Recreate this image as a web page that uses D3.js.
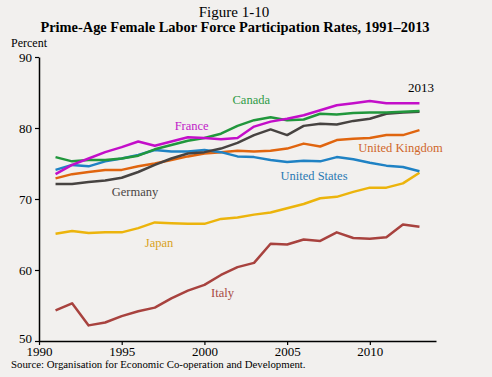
<!DOCTYPE html>
<html>
<head>
<meta charset="utf-8">
<script src="https://cdn.jsdelivr.net/npm/d3@7"></script>
<style>
  body { margin: 0; background: #f2f0ee; }
  svg { font-family: "Liberation Serif", "Times New Roman", serif; }
</style>
</head>
<body>
<div id="chart"></div>
<script>
// years and series (percent)
const years = d3.range(1991, 2014);
const canada  = [75.9, 75.3, 75.5, 75.5, 75.7, 76.1, 77.0, 77.6, 78.2, 78.6, 79.2, 80.3, 81.1, 81.5, 81.1, 81.2, 82.0, 81.9, 82.1, 82.2, 82.2, 82.3, 82.4];
const france  = [73.5, 74.8, 75.7, 76.6, 77.3, 78.1, 77.5, 78.1, 78.7, 78.6, 78.4, 78.6, 80.2, 80.9, 81.3, 81.8, 82.5, 83.2, 83.5, 83.8, 83.5, 83.5, 83.5];
const germany = [72.1, 72.1, 72.4, 72.6, 73.0, 73.8, 74.8, 75.7, 76.4, 76.6, 77.1, 77.9, 79.0, 79.8, 79.0, 80.3, 80.6, 80.5, 81.0, 81.3, 82.0, 82.2, 82.3];
const usa     = [74.1, 74.8, 74.6, 75.3, 75.7, 76.2, 76.9, 76.7, 76.7, 76.9, 76.6, 76.0, 75.9, 75.5, 75.2, 75.4, 75.3, 75.9, 75.6, 75.1, 74.7, 74.5, 73.9];
const uk      = [72.9, 73.5, 73.8, 74.1, 74.1, 74.6, 75.0, 75.5, 76.0, 76.4, 76.6, 76.8, 76.7, 76.8, 77.1, 77.8, 77.4, 78.3, 78.5, 78.6, 79.0, 79.0, 79.7];
const japan   = [65.1, 65.5, 65.2, 65.3, 65.3, 65.9, 66.7, 66.6, 66.5, 66.5, 67.2, 67.4, 67.8, 68.1, 68.7, 69.3, 70.1, 70.3, 71.0, 71.6, 71.6, 72.2, 73.7];
const italy   = [54.3, 55.3, 52.2, 52.6, 53.5, 54.2, 54.7, 56.0, 57.1, 57.9, 59.3, 60.4, 61.0, 63.7, 63.6, 64.3, 64.1, 65.3, 64.5, 64.4, 64.6, 66.4, 66.1];

const seriesNames  = ["Japan", "Italy", "United Kingdom", "United States", "Germany", "Canada", "France"];
const seriesValues = [japan, italy, uk, usa, germany, canada, france];
const lineColors   = ["#ecb40c", "#a8423e", "#e0650f", "#1f82c4", "#474341", "#21973c", "#c30ec9"];
const labelColors  = ["#d9a21c", "#a84a45", "#d0672a", "#2a78b3", "#4a4644", "#2e9a46", "#c020c8"];

const xTicks = [1990, 1995, 2000, 2005, 2010];
const yTicks = [50, 60, 70, 80, 90];

const width = 492, height = 377;
const margin = {top: 57, right: 56, bottom: 36, left: 39};

const svg = d3.select("#chart").append("svg")
    .attr("width", width)
    .attr("height", height);

svg.append("rect").attr("width", width).attr("height", height).attr("fill", "#f2f0ee");

const x = d3.scaleLinear().domain([1990, 2014]).range([margin.left, width - margin.right]);
const y = d3.scaleLinear().domain([50, 90]).range([height - margin.bottom, margin.top]);

// titles
svg.append("text")
    .attr("x", 234).attr("y", 17)
    .attr("text-anchor", "middle")
    .attr("font-size", 15)
    .text("Figure 1-10");
svg.append("text")
    .attr("x", 235).attr("y", 32)
    .attr("text-anchor", "middle")
    .attr("font-size", 14.4)
    .attr("font-weight", "bold")
    .text("Prime-Age Female Labor Force Participation Rates, 1991\u20132013");
svg.append("text")
    .attr("x", 11).attr("y", 47)
    .attr("font-size", 12)
    .text("Percent");

// axes
const xAxis = svg.append("g")
    .attr("transform", `translate(0,${y(50)})`)
    .call(d3.axisBottom(x).tickValues(xTicks).tickFormat(d3.format("d")).tickSize(4).tickSizeOuter(0));
const yAxis = svg.append("g")
    .attr("transform", `translate(${x(1990)},0)`)
    .call(d3.axisLeft(y).tickValues(yTicks).tickSize(4).tickSizeOuter(0));

[xAxis, yAxis].forEach(g => {
    g.select(".domain").attr("stroke", "#000").attr("stroke-width", 1.5);
    g.selectAll(".tick line").attr("stroke", "#000").attr("stroke-width", 1.2);
    g.selectAll(".tick text")
        .attr("fill", "#000")
        .attr("font-size", 13)
        .attr("font-family", "Liberation Serif, serif");
});
xAxis.selectAll(".tick text").attr("dy", "0.65em");
yAxis.selectAll(".tick text").attr("x", -7);
yAxis.selectAll(".tick text").filter(d => d === 50).attr("dy", "0.1em");

// lines
const line = d3.line()
    .x((d, i) => x(years[i]))
    .y(d => y(d));

svg.append("g").selectAll("path")
    .data(seriesValues)
    .join("path")
    .attr("d", d => line(d))
    .attr("fill", "none")
    .attr("stroke", (d, i) => lineColors[i])
    .attr("stroke-width", 2.5)
    .attr("stroke-linejoin", "round");

// series labels (year, percent of text baseline)
const labelPos = {
    "Canada": [2001.7, 83.4],
    "France": [1998.2, 79.7],
    "United Kingdom": [2009.3, 76.6],
    "Germany": [1994.4, 70.4],
    "United States": [2004.6, 72.7],
    "Japan": [1996.4, 63.2],
    "Italy": [2000.4, 56.2]
};
svg.append("g").selectAll("text")
    .data(seriesNames)
    .join("text")
    .attr("x", d => x(labelPos[d][0]))
    .attr("y", d => y(labelPos[d][1]))
    .attr("font-size", 12.5)
    .attr("fill", (d, i) => labelColors[i])
    .text(d => d);

svg.append("text")
    .attr("x", x(2012.3)).attr("y", y(85.1))
    .attr("font-size", 13)
    .attr("fill", "#000")
    .text("2013");

// source
svg.append("text")
    .attr("x", 11).attr("y", 368)
    .attr("font-size", 10.8)
    .text("Source: Organisation for Economic Co-operation and Development.");
</script>
</body>
</html>
